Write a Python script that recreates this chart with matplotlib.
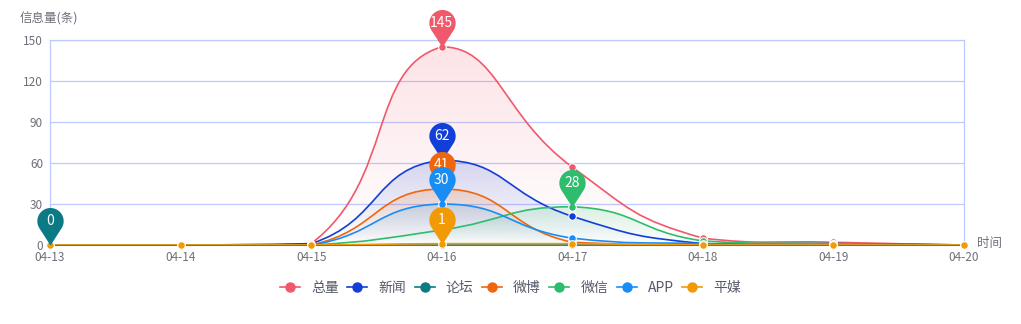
import numpy as np
import matplotlib
matplotlib.use('Agg')
import matplotlib.pyplot as plt
from matplotlib.path import Path
from matplotlib.patches import PathPatch
from matplotlib.lines import Line2D
from matplotlib.colors import to_rgb

plt.rcParams['font.family'] = ['Noto Sans CJK SC', 'DejaVu Sans']

dates = ['04-13', '04-14', '04-15', '04-16', '04-17', '04-18', '04-19', '04-20']
names = ['总量', '新闻', '论坛', '微博', '微信', 'APP', '平媒']
total = [0, 0, 1, 145, 57, 5, 2, 0]
news = [0, 0, 1, 62, 21, 1, 1, 0]
forum = [0, 0, 0, 0, 0, 0, 0, 0]
weibo = [0, 0, 0, 41, 2, 0, 0, 0]
wechat = [0, 0, 0, 11, 28, 3, 1, 0]
app = [0, 0, 0, 30, 5, 1, 0, 0]
print_media = [0, 0, 0, 1, 1, 0, 0, 0]
colors = ['#f0596b', '#123fd6', '#0b7a84', '#f0660d', '#2dbd6c', '#1a8df5', '#f29a05']
series = [total, news, forum, weibo, wechat, app, print_media]

W, H = 1021, 324
fig = plt.figure(figsize=(W / 100, H / 100), dpi=100)
ax = fig.add_axes([50 / W, 1 - 245 / H, (964 - 50) / W, (245 - 40) / H])
ax.set_xlim(0, 7)
ax.set_ylim(0, 150)

# pixel scale for smoothing lengths
SX = (964 - 50) / 7.0
SY = (245 - 40) / 150.0


def smooth_path(xs, ys, smooth=0.5):
    n = len(xs)
    P = np.array([(xs[i] * SX, ys[i] * SY) for i in range(n)], dtype=float)
    lo = P.min(axis=0)
    hi = P.max(axis=0)
    cps = []
    for i in range(n):
        if i == 0 or i == n - 1:
            cps.append(P[i].copy())
            continue
        v = (P[i + 1] - P[i - 1]) * smooth
        d0 = np.hypot(*(P[i] - P[i - 1]))
        d1 = np.hypot(*(P[i] - P[i + 1]))
        s = d0 + d1
        if s:
            d0 /= s
            d1 /= s
        c0 = np.clip(P[i] - v * d0, lo, hi)
        c1 = np.clip(P[i] + v * d1, lo, hi)
        cps.append(c0)
        cps.append(c1)
    verts = [P[0]]
    codes = [Path.MOVETO]
    for i in range(n - 1):
        verts += [cps[2 * i], cps[2 * i + 1], P[i + 1]]
        codes += [Path.CURVE4] * 3
    v = np.array(verts)
    v[:, 0] /= SX
    v[:, 1] /= SY
    return v, codes


xs = np.arange(len(dates))
grid_c = '#bccaff'
for t in range(0, 151, 30):
    ax.axhline(t, color=grid_c, lw=0.9, zorder=0)
for s in ['left', 'right', 'top']:
    ax.spines[s].set_color(grid_c)
    ax.spines[s].set_linewidth(0.9)
ax.spines['bottom'].set_color('#6e7079')

for k, (vals, c) in enumerate(zip(series, colors)):
    v, codes = smooth_path(xs, vals)
    z = 2 + k * 0.1
    ymax = max(vals)
    if ymax > 0:
        av = np.vstack([v, [[xs[-1], 0], [xs[0], 0], [xs[0], vals[0]]]])
        acodes = codes + [Path.LINETO, Path.LINETO, Path.LINETO]
        apatch = PathPatch(Path(av, acodes), facecolor='none', edgecolor='none')
        ax.add_patch(apatch)
        rgb = to_rgb(c)
        grad = np.zeros((100, 1, 4))
        grad[:, 0, :3] = rgb
        grad[:, 0, 3] = np.linspace(0.17, 0.0, 100)
        im = ax.imshow(grad, extent=[0, 7, 0, ymax], origin='upper', aspect='auto',
                       zorder=1 + k * 0.01, interpolation='bilinear')
        im.set_clip_path(apatch)
    line = PathPatch(Path(v, codes), facecolor='none', edgecolor=c, lw=1.2, zorder=z)
    ax.add_patch(line)
    ax.plot(xs, vals, 'o', color=c, ms=5.5, mec='white', mew=0.8, zorder=z + 0.05, clip_on=False)

ax.set_xlim(0, 7)
ax.set_ylim(0, 150)

# pin markers
h = 1.85
alpha = np.arccos(1.0 / h)
ang = np.linspace(-np.pi / 2 + alpha, 3 * np.pi / 2 - alpha, 60)
pv = np.column_stack([np.cos(ang), h + np.sin(ang)])
pv = np.vstack([[0, 0], pv, [0, 0]])
pin = Path(pv, [Path.MOVETO] + [Path.LINETO] * (len(pv) - 2) + [Path.CLOSEPOLY])
for k, (vals, c) in enumerate(zip(series, colors)):
    i = int(np.argmax(vals))
    z = 10 + k
    ax.plot([xs[i]], [vals[i]], marker=pin, ms=54, color=c, mew=0, zorder=z, clip_on=False)
    ax.annotate(str(vals[i]), (xs[i], vals[i]), xytext=(0, 24 * 0.72), textcoords='offset points',
                ha='center', va='center', color='white', fontsize=10, zorder=z + 0.5,
                annotation_clip=False)

ax.set_xticks(xs)
ax.set_xticklabels(dates)
ax.set_yticks(range(0, 151, 30))
ax.tick_params(axis='both', length=0, colors='#6e7079', labelsize=8.5)
ax.tick_params(axis='x', pad=4)
ax.tick_params(axis='y', pad=5)

fig.text(20 / W, 1 - 19 / H, '信息量(条)', ha='left', va='center', color='#6e7079', fontsize=9)
fig.text(977 / W, 1 - 244 / H, '时间', ha='left', va='center', color='#6e7079', fontsize=9)

handles = [Line2D([0], [0], color=c, lw=1.2, marker='o', ms=6.5, mec=c) for c in colors]
leg = fig.legend(handles, names, loc='center', bbox_to_anchor=(0.5, 1 - 288 / H), ncol=7,
                 frameon=False, fontsize=10, handlelength=1.45, columnspacing=0.6,
                 handletextpad=0.8, labelcolor='#555a6b')

fig.savefig('out.png', dpi=100)
